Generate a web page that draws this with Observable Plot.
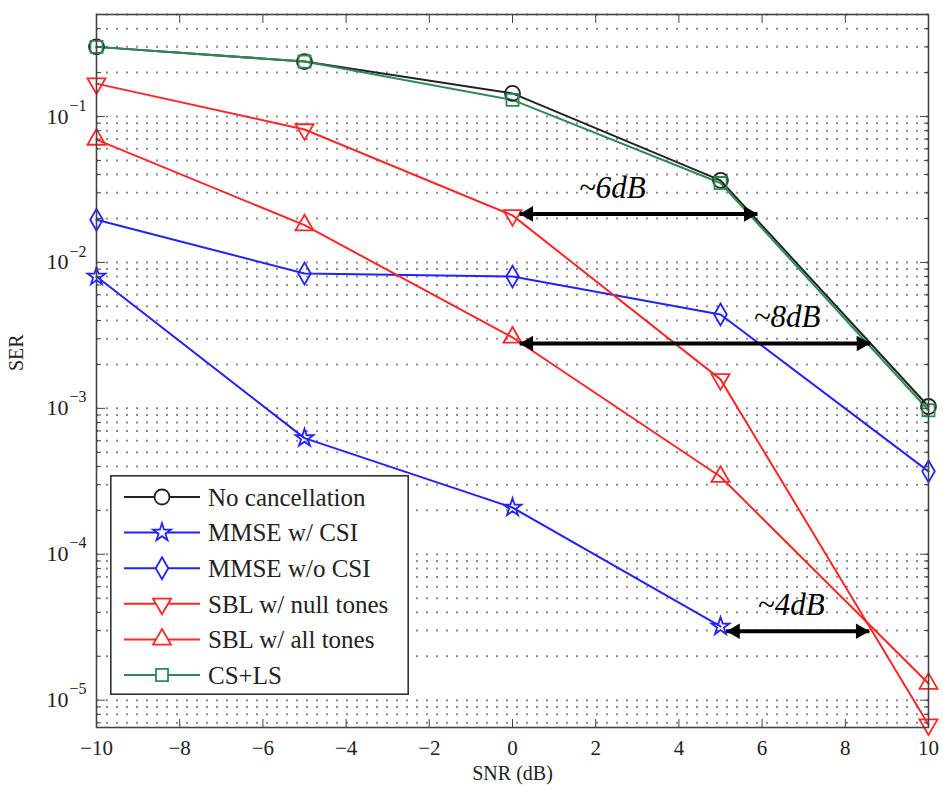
<!DOCTYPE html>
<html><head><meta charset="utf-8">
<script src="https://cdn.jsdelivr.net/npm/d3@7"></script>
<script src="https://cdn.jsdelivr.net/npm/@observablehq/plot@0.6"></script>
<style>
body{margin:0;background:#fff;}
#wrap{position:relative;width:943px;height:789px;}
#legend{position:absolute;left:110px;top:475px;}
</style>
</head><body>
<div id="wrap"><div id="chart"></div><div id="legend"></div></div>
<script>
// ---- data ----
const snr = [-10, -5, 0, 5, 10];
const snrCsi = [-10, -5, 0, 5];
const noCancellation = [0.30, 0.238, 0.144, 0.0365, 1.03e-3];
const mmseCsi = [8.0e-3, 6.25e-4, 2.09e-4, 3.2e-5];
const mmseNoCsi = [0.0196, 8.4e-3, 8.0e-3, 4.4e-3, 3.7e-4];
const sblNull = [0.168, 0.0815, 0.021, 1.58e-3, 6.8e-6];
const sblAll = [0.0695, 0.018, 3.06e-3, 3.4e-4, 1.3e-5];
const csLs = [0.30, 0.238, 0.13, 0.035, 0.97e-3];

const seriesNames = ["No cancellation", "MMSE w/ CSI", "MMSE w/o CSI", "SBL w/ null tones", "SBL w/ all tones", "CS+LS"];
const seriesColors = ["#222222", "#2222ff", "#2222ff", "#ff2626", "#ff2626", "#2e8a55"];
const seriesSymbols = ["circle", "star", "diamond", "triangle", "triangle", "square"];
const seriesRotate = [0, 0, 0, 180, 0, 0];
const seriesR = [7.5, 5.6, 6.6, 6.7, 6.7, 6.8];

const xTicks = [-10, -8, -6, -4, -2, 0, 2, 4, 6, 8, 10];
const yMajor = [1e-1, 1e-2, 1e-3, 1e-4, 1e-5];

// annotation arrows
const arrowFrom = [0.17, 0.17, 5.14];
const arrowTo = [5.89, 8.6, 8.58];
const arrowSer = [0.0215, 2.78e-3, 2.97e-5];
const arrowLabels = ["~6dB", "~8dB", "~4dB"];
const arrowLabelX = [2.4, 6.6, 6.7];

// ---- derived tables ----
const seriesX = [snr, snrCsi, snr, snr, snr, snr];
const seriesY = [noCancellation, mmseCsi, mmseNoCsi, sblNull, sblAll, csLs];
const tables = seriesNames.map((name, i) => seriesX[i].map((x, j) => ({snr: x, ser: seriesY[i][j], name})));

const yDomain = [6.5e-6, 0.5];
const yMinor = [];
for (let e = -6; e <= -1; e++) for (let m = 2; m <= 9; m++) {
  const v = m * Math.pow(10, e);
  if (v >= yDomain[0] && v <= yDomain[1]) yMinor.push(v);
}
const yGrid = yMajor.concat(yMinor);
const arrows = arrowFrom.map((x1, i) => ({x1, x2: arrowTo[i], y: arrowSer[i], label: arrowLabels[i], lx: arrowLabelX[i]}));

const font = "'Liberation Serif', 'Times New Roman', serif";

const marks = [
  Plot.gridY(yGrid, {stroke: "#8a8a8a", strokeOpacity: 1, strokeWidth: 2, strokeDasharray: "2,8"}),
];
// lines: draw order so green sits over black
const order = [0, 5, 2, 1, 4, 3];
for (const i of order) {
  marks.push(Plot.line(tables[i], {x: "snr", y: "ser", stroke: seriesColors[i], strokeWidth: 2}));
}
for (const i of order) {
  marks.push(Plot.dot(tables[i], {x: "snr", y: "ser", stroke: seriesColors[i], fill: "none", strokeWidth: 1.8,
    symbol: seriesSymbols[i], r: seriesR[i], rotate: seriesRotate[i]}));
}
// annotation arrows
marks.push(
  Plot.link(arrows, {x1: "x1", x2: "x2", y1: "y", y2: "y", stroke: "#000", strokeWidth: 4}),
  Plot.dot(arrows, {x: "x1", y: "y", symbol: "triangle", r: 5.8, rotate: -90, fill: "#000", dx: 9}),
  Plot.dot(arrows, {x: "x2", y: "y", symbol: "triangle", r: 5.8, rotate: 90, fill: "#000", dx: -9}),
  Plot.text(arrows, {x: "lx", y: "y", text: "label", dy: -26, fontSize: 31, fontStyle: "italic", fontFamily: font, fill: "#000"})
);
// frame and axes
marks.push(
  Plot.frame({stroke: "#444", strokeWidth: 1.6}),
  Plot.axisX({anchor: "bottom", ticks: xTicks, tickSize: 0, tickPadding: 13, fontSize: 21, label: null}),
  Plot.axisX({anchor: "bottom", ticks: xTicks, tickSize: -8, tickFormat: () => "", label: null, stroke: "#444"}),
  Plot.axisX({anchor: "top", ticks: xTicks, tickSize: -8, tickFormat: () => "", label: null, stroke: "#444"}),
  Plot.axisY({anchor: "left", ticks: yMajor, tickSize: 0, tickPadding: 28, tickFormat: () => "10", fontSize: 22, label: null}),
  Plot.text(yMajor, {y: d => d, frameAnchor: "left", text: d => "\u2212" + Math.round(-Math.log10(d)), dx: -27, dy: -11, textAnchor: "start", fontSize: 16, fontFamily: font}),
  Plot.axisY({anchor: "left", ticks: yMajor, tickSize: -9, tickFormat: () => "", label: null, stroke: "#444"}),
  Plot.axisY({anchor: "left", ticks: yMinor, tickSize: -5, tickFormat: () => "", label: null, stroke: "#444"}),
  Plot.axisY({anchor: "right", ticks: yMajor, tickSize: -9, tickFormat: () => "", label: null, stroke: "#444"}),
  Plot.axisY({anchor: "right", ticks: yMinor, tickSize: -5, tickFormat: () => "", label: null, stroke: "#444"}),
  Plot.text(["SNR (dB)"], {frameAnchor: "bottom", text: d => d, dy: 52, fontSize: 20, fontFamily: font}),
  Plot.text(["SER"], {frameAnchor: "left", text: d => d, dx: -80, dy: 0, rotate: -90, fontSize: 20, fontFamily: font})
);

const chart = Plot.plot({
  width: 943, height: 789,
  marginLeft: 96, marginRight: 15, marginTop: 14, marginBottom: 62,
  style: {fontFamily: font, fontSize: "22px", color: "#222", background: "#fff"},
  x: {domain: [-10, 10]},
  y: {type: "log", domain: yDomain},
  marks
});
document.getElementById("chart").appendChild(chart);

// ---- legend ----
const symMap = {circle: d3.symbolCircle, star: d3.symbolStar, diamond: d3.symbolDiamond, triangle: d3.symbolTriangle, square: d3.symbolSquare};
const lw = 299, lh = 220;
const lsvg = d3.select("#legend").append("svg").attr("width", lw).attr("height", lh);
lsvg.append("rect").attr("x", 0.8).attr("y", 0.8).attr("width", lw - 1.6).attr("height", lh - 1.6)
  .attr("fill", "#fff").attr("stroke", "#333").attr("stroke-width", 1.6);
seriesNames.forEach((name, i) => {
  const cy = 22 + 35.6 * i;
  const g = lsvg.append("g");
  g.append("line").attr("x1", 14).attr("x2", 90).attr("y1", cy).attr("y2", cy)
    .attr("stroke", seriesColors[i]).attr("stroke-width", 2);
  g.append("path").attr("d", d3.symbol(symMap[seriesSymbols[i]], Math.PI * seriesR[i] * seriesR[i])())
    .attr("transform", `translate(52,${cy}) rotate(${seriesRotate[i]})`)
    .attr("fill", "#fff").attr("stroke", seriesColors[i]).attr("stroke-width", 1.8);
  g.append("text").attr("x", 98).attr("y", cy).attr("dy", "0.35em")
    .attr("font-family", font).attr("font-size", 25).attr("fill", "#222").text(name);
});
</script>
</body></html>
